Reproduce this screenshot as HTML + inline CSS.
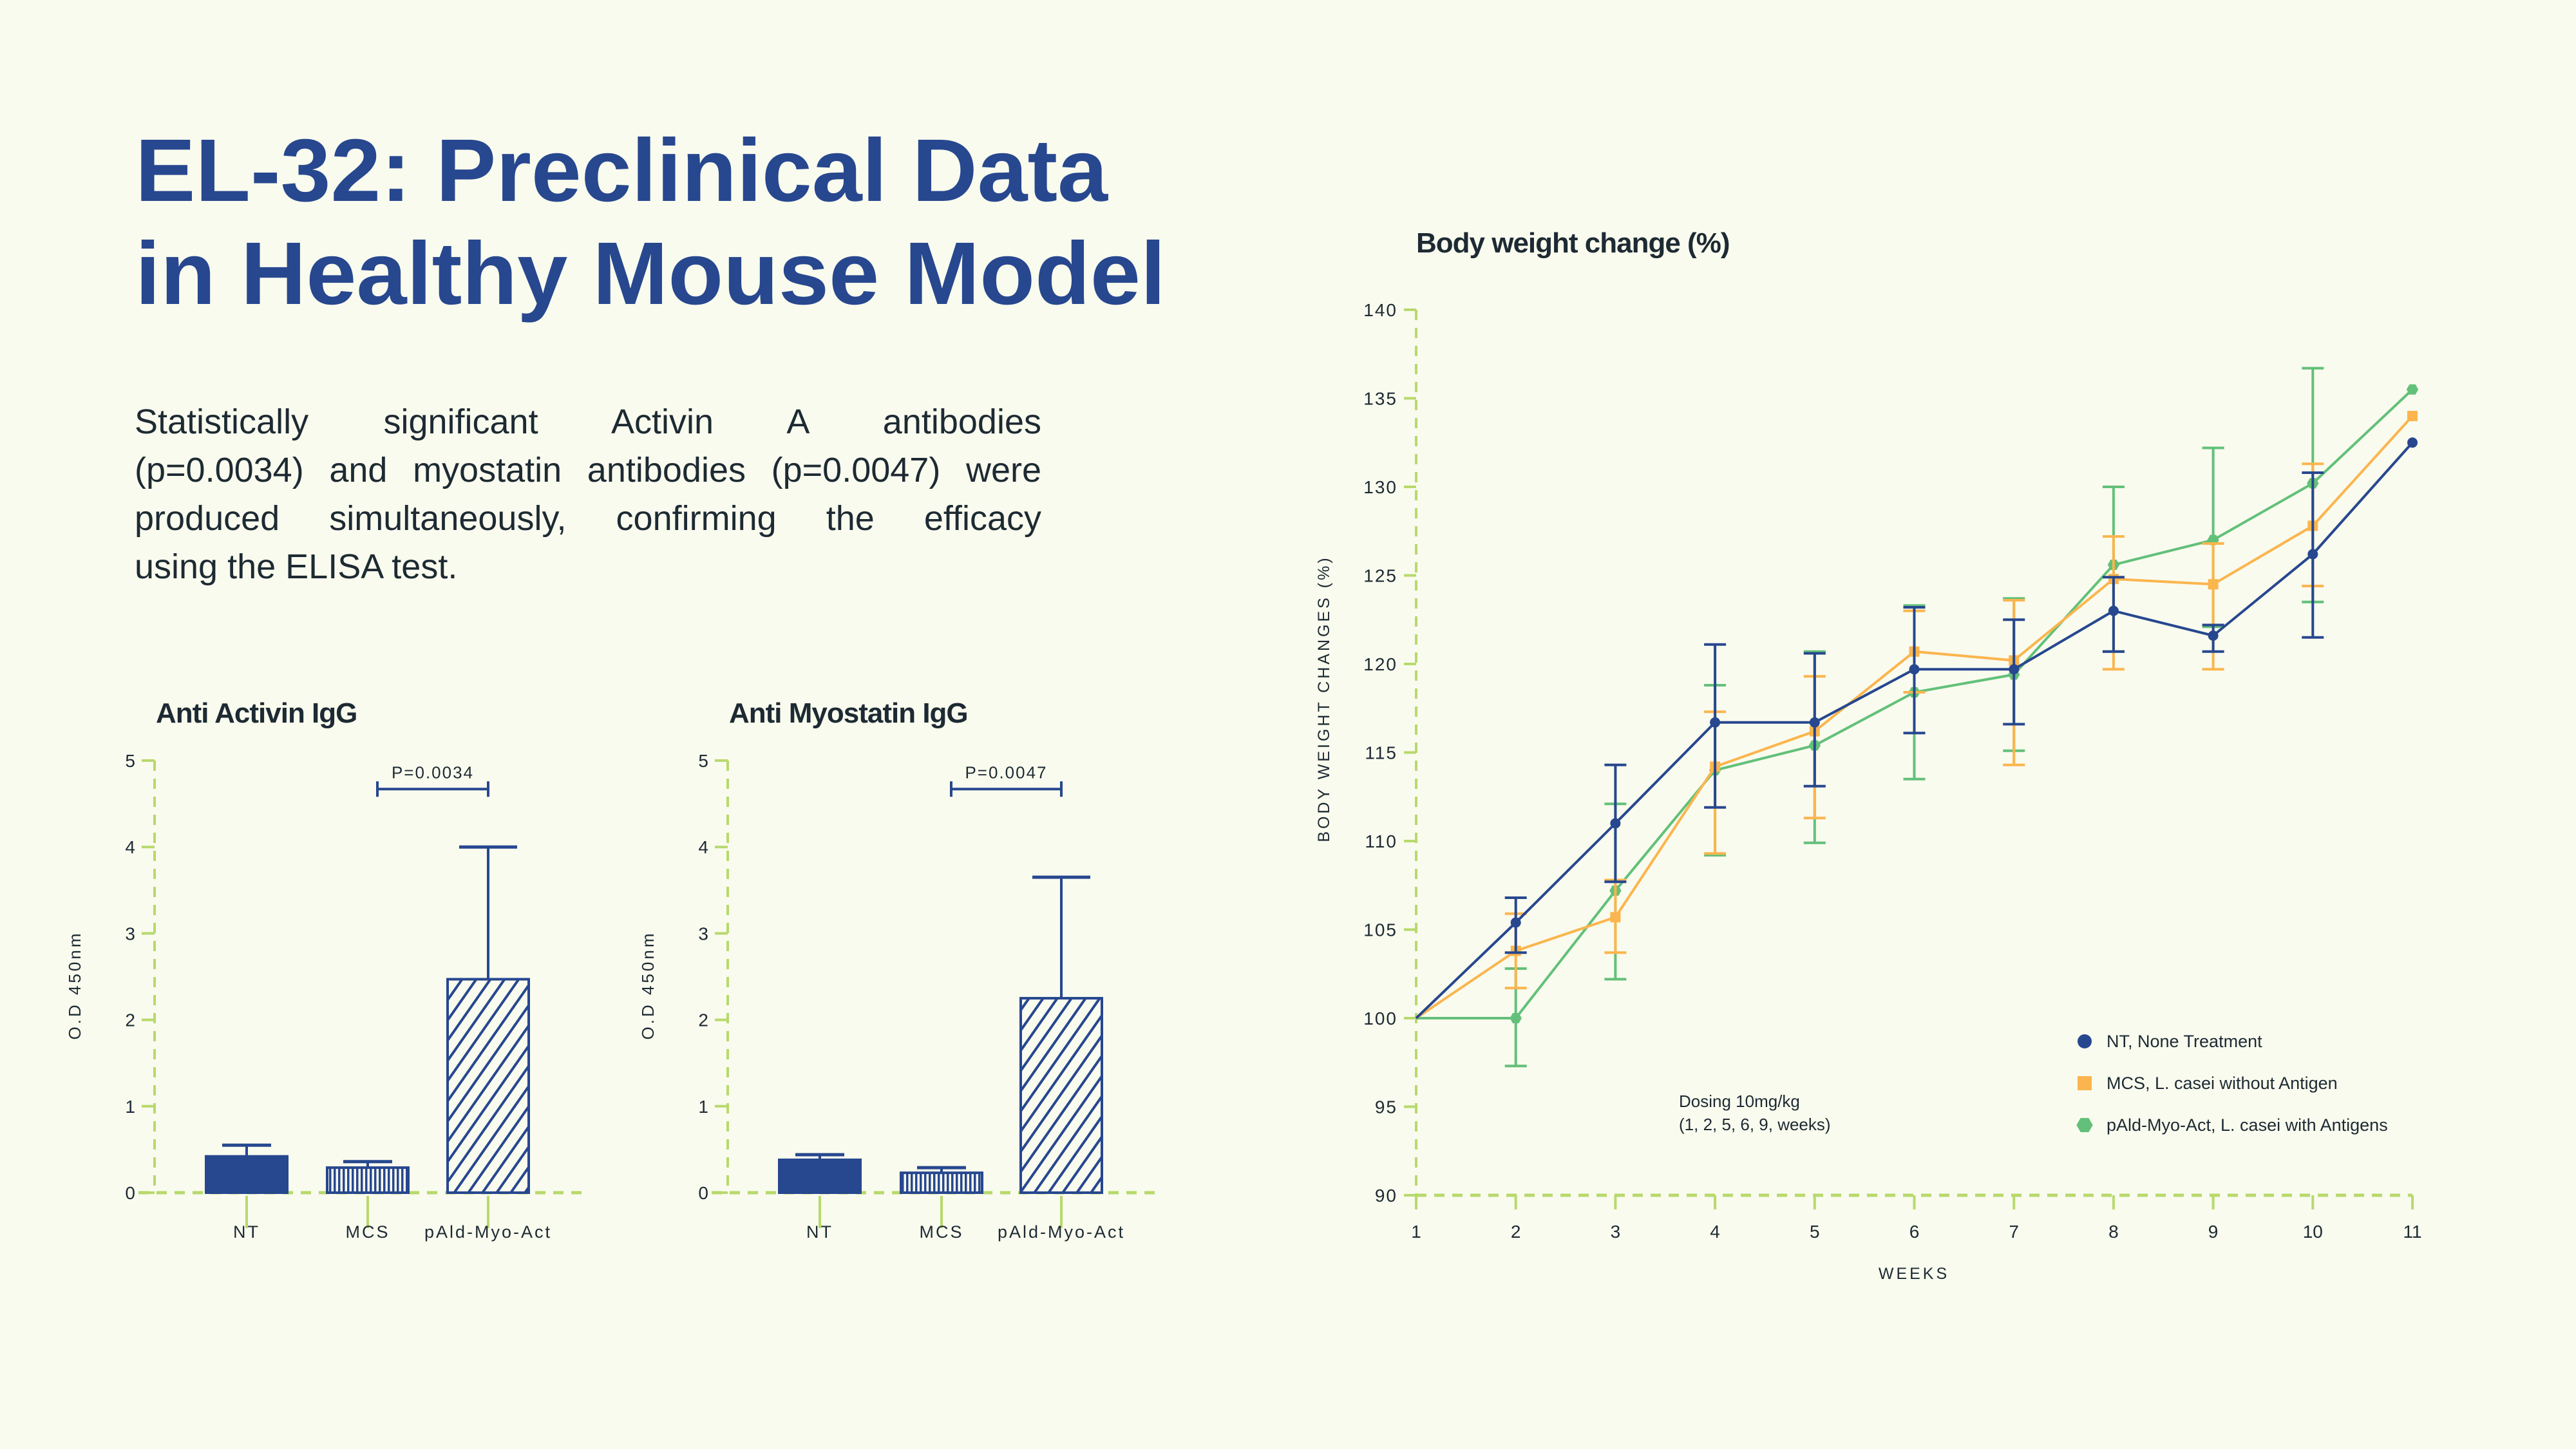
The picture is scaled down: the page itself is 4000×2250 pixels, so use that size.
<!DOCTYPE html>
<html><head><meta charset="utf-8"><style>
html,body{margin:0;padding:0;background:#f9fbee;}
svg{display:block;font-family:"Liberation Sans",sans-serif;}
#para{position:absolute;left:209px;top:618px;width:1408px;font-family:"Liberation Sans",sans-serif;font-size:54px;color:#1d2a33;}
#para div{height:75px;line-height:75px;white-space:nowrap;text-align:justify;text-align-last:justify;}
#para div.last{text-align-last:left;}
</style></head><body>
<svg id="root" width="4000" height="2250" viewBox="0 0 4000 2250" xmlns="http://www.w3.org/2000/svg">
<rect width="4000" height="2250" fill="#f9fbee"/>
<g fill="#27478f" font-weight="bold" font-size="138">
<text x="210" y="312" textLength="1510" lengthAdjust="spacingAndGlyphs">EL-32: Preclinical Data</text>
<text x="210" y="472" textLength="1600" lengthAdjust="spacingAndGlyphs">in Healthy Mouse Model</text>
</g>
<g id="bars1"></g>
<g id="bars2"></g>
<g id="line"></g>
</svg>
<div id="para">
<div>Statistically significant Activin A antibodies</div>
<div>(p=0.0034) and myostatin antibodies (p=0.0047) were</div>
<div>produced simultaneously, confirming the efficacy</div>
<div class="last">using the ELISA test.</div>
</div>
<script>
const barCategories = ["NT", "MCS", "pAld-Myo-Act"];
const activinValues = [0.42, 0.29, 2.47];
const activinErrTop = [0.55, 0.36, 4.0];
const myostatinValues = [0.38, 0.23, 2.25];
const myostatinErrTop = [0.44, 0.29, 3.65];
const barTicks = [0, 1, 2, 3, 4, 5];
const pValueLabels = ["P=0.0034", "P=0.0047"];

const weeks = [1,2,3,4,5,6,7,8,9,10,11];
const ntValues  = [100,105.4,111,116.7,116.7,119.7,119.7,123,121.6,126.2,132.5];
const ntLow     = [100,103.7,107.7,111.9,113.1,116.1,116.6,120.7,120.7,121.5,132.5];
const ntHigh    = [100,106.8,114.3,121.1,120.6,123.2,122.5,124.9,122.2,130.8,132.5];
const mcsValues = [100,103.8,105.7,114.2,116.2,120.7,120.2,124.8,124.5,127.8,134];
const mcsLow    = [100,101.7,103.7,109.3,111.3,118.4,114.3,119.7,119.7,124.4,134];
const mcsHigh   = [100,105.9,107.8,117.3,119.3,123,123.6,127.2,126.8,131.3,134];
const pamValues = [100,100,107.2,114,115.4,118.4,119.4,125.6,127,130.2,135.5];
const pamLow    = [100,97.3,102.2,109.2,109.9,113.5,115.1,120.7,122.1,123.5,135.5];
const pamHigh   = [100,102.8,112.1,118.8,120.7,123.3,123.7,130,132.2,136.7,135.5];
const yTicks = [90,95,100,105,110,115,120,125,130,135,140];
const legendLabels = ["NT, None Treatment","MCS, L. casei without Antigen","pAld-Myo-Act, L. casei with Antigens"];

const NS = "http://www.w3.org/2000/svg";
function mk(parent, tag, attrs, text){
  const e = document.createElementNS(NS, tag);
  for (const k in attrs) e.setAttribute(k, attrs[k]);
  if (text !== undefined) e.textContent = text;
  parent.appendChild(e);
  return e;
}
const BLUE="#27478f", ORANGE="#fbb54e", GREEN="#63c07a", AX="#b8d96c", TXT="#1d2a33";

const root = document.getElementById('root');
const defs = mk(root,'defs',{});
const pv = mk(defs,'pattern',{id:'vstripe',patternUnits:'userSpaceOnUse',width:7,height:10});
mk(pv,'rect',{width:7,height:10,fill:'#f9fbee'});
mk(pv,'rect',{x:0,width:3.5,height:10,fill:BLUE});
const pd = mk(defs,'pattern',{id:'dstripe',patternUnits:'userSpaceOnUse',width:18,height:18,patternTransform:'rotate(35)'});
mk(pd,'rect',{width:18,height:18,fill:'#f9fbee'});
mk(pd,'rect',{x:0,width:4,height:18,fill:BLUE});
const fills = ['none','url(#vstripe)','url(#dstripe)'];

function barChart(gid, x0, xs, title, vals, errs, pLabel, pRange){
  const g = document.getElementById(gid);
  const y0 = 1852, y5 = 1181;
  const ys = v => y0 - (y0 - y5) * v / 5;
  const t = mk(g,'text',{x:x0+2,y:1122,'font-size':44,'font-weight':'bold',fill:TXT,'letter-spacing':'-1'},title);
  
  
  const ya = mk(g,'line',{x1:x0,y1:y5,x2:x0,y2:y0,stroke:AX,'stroke-width':4,'stroke-dasharray':'16 12'});
  
  
  const xa = mk(g,'line',{x1:x0-25,y1:y0,x2:x0+670,y2:y0,stroke:AX,'stroke-width':5,'stroke-dasharray':'16 12'});
  
  
  barTicks.forEach(v=>{
    mk(g,'line',{x1:x0-20,y1:ys(v),x2:x0,y2:ys(v),stroke:AX,'stroke-width':4});
    const tl = mk(g,'text',{x:x0-30,y:ys(v)+10,'font-size':28,'text-anchor':'end',fill:TXT},String(v));
    
    
  });
  const yl = mk(g,'text',{x:0,y:0,'font-size':26,'text-anchor':'middle',fill:TXT,'letter-spacing':'4',transform:`translate(${x0-115},1530) rotate(-90)`},'O.D 450nm');
  
  
  const bw = 126;
  barCategories.forEach((c,i)=>{
    const cx = xs[i];
    mk(g,'line',{x1:cx,y1:y0+5,x2:cx,y2:y0+55,stroke:AX,'stroke-width':4});
    const xl = mk(g,'text',{x:cx,y:1922,'font-size':27,'text-anchor':'middle',fill:TXT,'letter-spacing':'3'},c);
    
    
    mk(g,'line',{x1:cx,y1:ys(vals[i]),x2:cx,y2:ys(errs[i]),stroke:BLUE,'stroke-width':4});
    mk(g,'line',{x1:cx-(i==2?45:38),y1:ys(errs[i]),x2:cx+(i==2?45:38),y2:ys(errs[i]),stroke:BLUE,'stroke-width':5});
    const b = mk(g,'rect',{x:cx-bw/2,y:ys(vals[i]),width:bw,height:y0-ys(vals[i]),fill:i==0?BLUE:fills[i],stroke:BLUE,'stroke-width':4});
    
    
  });
  const by = ys(4.67);
  const a = xs[pRange[0]]+15, bb = xs[pRange[1]];
  mk(g,'path',{d:`M${a} ${by-12}V${by+12}M${a} ${by}H${bb}M${bb} ${by-12}V${by+12}`,stroke:BLUE,'stroke-width':4,fill:'none'});
  const pl = mk(g,'text',{x:(a+bb)/2,y:by-17,'font-size':26,'text-anchor':'middle',fill:TXT,'letter-spacing':'2'},pLabel);
  
  
}
barChart('bars1',240,[383,571,758],'Anti Activin IgG',activinValues,activinErrTop,pValueLabels[0],[1,2]);
barChart('bars2',1130,[1273,1462,1648],'Anti Myostatin IgG',myostatinValues,myostatinErrTop,pValueLabels[1],[1,2]);

(function(){
  const g = document.getElementById('line');
  const X = w => 2199 + (w-1)*(3746-2199)/10;
  const Y = v => 1856 - (v-90)*(1856-481)/50;
  const t = mk(g,'text',{x:2199,y:392,'font-size':44,'font-weight':'bold',fill:TXT,'letter-spacing':'-1'},'Body weight change (%)');
  
  
  const ya = mk(g,'line',{x1:2199,y1:481,x2:2199,y2:1856,stroke:AX,'stroke-width':4,'stroke-dasharray':'16 12'});
  
  
  const xa = mk(g,'line',{x1:2199,y1:1856,x2:3746,y2:1856,stroke:AX,'stroke-width':5,'stroke-dasharray':'16 12'});
  
  
  yTicks.forEach(v=>{
    mk(g,'line',{x1:2180,y1:Y(v),x2:2199,y2:Y(v),stroke:AX,'stroke-width':4});
    const tl = mk(g,'text',{x:2170,y:Y(v)+10,'font-size':28,'text-anchor':'end',fill:TXT,'letter-spacing':'2'},String(v));
    
    
  });
  weeks.forEach(w=>{
    mk(g,'line',{x1:X(w),y1:1856,x2:X(w),y2:1878,stroke:AX,'stroke-width':4});
    const tl = mk(g,'text',{x:X(w),y:1922,'font-size':28,'text-anchor':'middle',fill:TXT},String(w));
    
    
  });
  const yl = mk(g,'text',{x:0,y:0,'font-size':25,'text-anchor':'middle',fill:TXT,'letter-spacing':'4',transform:'translate(2064,1085) rotate(-90)'},'BODY WEIGHT CHANGES (%)');
  
  
  const xl = mk(g,'text',{x:2972,y:1986,'font-size':25,'text-anchor':'middle',fill:TXT,'letter-spacing':'4'},'WEEKS');
  
  
  const series = [
    {name:'nt',v:ntValues,lo:ntLow,hi:ntHigh,col:BLUE,m:'circle',sw:4},
    {name:'mcs',v:mcsValues,lo:mcsLow,hi:mcsHigh,col:ORANGE,m:'square',sw:4},
    {name:'pald-myo-act',v:pamValues,lo:pamLow,hi:pamHigh,col:GREEN,m:'hex',sw:4}
  ];
  function marker(p,m,x,y,col,r){
    if(m==='circle') return mk(p,'circle',{cx:x,cy:y,r:r,fill:col});
    if(m==='square') return mk(p,'rect',{x:x-r,y:y-r,width:2*r,height:2*r,fill:col});
    let pts=[];for(let k=0;k<6;k++){const a=Math.PI/3*k;pts.push((x+r*1.15*Math.cos(a))+','+(y+r*1.15*Math.sin(a)));}
    return mk(p,'polygon',{points:pts.join(' '),fill:col});
  }
  [2,1,0].forEach(si=>{
    const s=series[si];
    const sg = mk(g,'g',{});
    
    
    weeks.forEach((w,i)=>{
      if(s.hi[i]===s.lo[i]) return;
      const x=X(w);
      const eb = mk(sg,'path',{d:`M${x} ${Y(s.lo[i])}V${Y(s.hi[i])}M${x-17} ${Y(s.lo[i])}H${x+17}M${x-17} ${Y(s.hi[i])}H${x+17}`,stroke:s.col,'stroke-width':4,fill:'none'});
      
      
    });
    const ln = mk(sg,'polyline',{points:weeks.map((w,i)=>X(w)+','+Y(s.v[i])).join(' '),fill:'none',stroke:s.col,'stroke-width':s.sw});
    
    
    weeks.forEach((w,i)=>{
      if(i===0) return;
      const pt = marker(sg,s.m,X(w),Y(s.v[i]),s.col,8);
      
      
    });
  });
  const d1 = mk(g,'text',{x:2607,y:1719,'font-size':26,fill:TXT},'Dosing 10mg/kg');
  
  
  const d2 = mk(g,'text',{x:2607,y:1755,'font-size':26,fill:TXT},'(1, 2, 5, 6, 9, weeks)');
  
  
  const ly=[1617,1682,1747];
  series.forEach((s,i)=>{
    const lg = mk(g,'g',{});
    
    
    marker(lg,s.m,3237,ly[i],s.col,11);
    mk(lg,'text',{x:3271,y:ly[i]+9,'font-size':27,fill:TXT},legendLabels[i]);
  });
})();
</script>
</body></html>
